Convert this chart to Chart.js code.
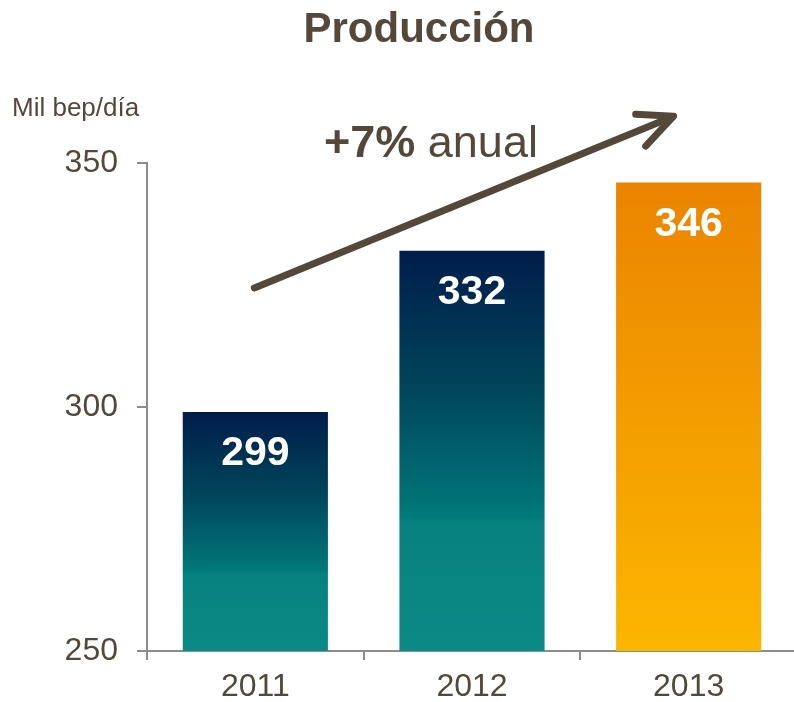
<!DOCTYPE html>
<html>
<head>
<meta charset="utf-8">
<script src="https://cdn.jsdelivr.net/npm/chart.js@4.4.1/dist/chart.umd.min.js"></script>
<style>
  html, body { margin: 0; padding: 0; background: #ffffff; overflow: hidden; }
  #wrap { width: 794px; height: 702px; position: relative; overflow: hidden; }
</style>
</head>
<body>
<div id="wrap"><canvas id="c" width="797" height="702"></canvas></div>
<script>
// ---- Data ----
const categories = ['2011', '2012', '2013'];
const production = [299, 332, 346];
const yTicks = [250, 300, 350];
const titleText = 'Producción';
const unitText = 'Mil bep/día';
const growthBold = '+7%';
const growthText = ' anual';

// ---- Style ----
const TEXT = '#54483a';
const AXIS = '#8c8c8c';
const FONT = '"Liberation Sans", Arial, Helvetica, sans-serif';

function barGradient(context) {
  const chart = context.chart;
  const yScale = chart.scales.y;
  if (!chart.chartArea || !yScale) return '#0c8784';
  const top = yScale.getPixelForValue(context.raw);
  const bottom = yScale.getPixelForValue(yScale.min);
  const g = chart.ctx.createLinearGradient(0, top, 0, bottom);
  if (context.dataIndex === categories.length - 1) {
    g.addColorStop(0, '#eb8400');
    g.addColorStop(1, '#fcb600');
  } else {
    g.addColorStop(0, '#001d4b');
    g.addColorStop(0.35, '#00465a');
    g.addColorStop(0.66, '#00787a');
    g.addColorStop(0.68, '#07817f');
    g.addColorStop(1, '#0c8a86');
  }
  return g;
}

const decorPlugin = {
  id: 'decor',
  afterDraw(chart) {
    const ctx = chart.ctx;
    const xs = chart.scales.x, ys = chart.scales.y;
    ctx.save();
    // title
    ctx.fillStyle = TEXT;
    ctx.font = 'bold 42px ' + FONT;
    ctx.textAlign = 'center';
    ctx.textBaseline = 'alphabetic';
    ctx.fillText(titleText, 419, 42);
    // unit label
    ctx.font = '26px ' + FONT;
    ctx.textAlign = 'left';
    ctx.fillText(unitText, 12, 116);
    // bar value labels
    const meta = chart.getDatasetMeta(0);
    ctx.fillStyle = '#ffffff';
    ctx.font = 'bold 41px ' + FONT;
    ctx.textAlign = 'center';
    meta.data.forEach((bar, i) => {
      ctx.fillText(String(production[i]), bar.x, bar.y + 53);
    });
    // arrow (anchored to scales)
    const x0 = xs.getPixelForValue(0) - 1, y0 = ys.getPixelForValue(324.4);
    const x1 = xs.getPixelForValue(2) - 15, y1 = ys.getPixelForValue(359.6);
    ctx.strokeStyle = TEXT;
    ctx.lineWidth = 7;
    ctx.lineCap = 'round';
    ctx.lineJoin = 'round';
    ctx.beginPath();
    ctx.moveTo(x0, y0);
    ctx.lineTo(x1 - 3, y1 + 1.3);
    ctx.stroke();
    ctx.beginPath();
    ctx.moveTo(x1 - 38, y1 - 2);
    ctx.lineTo(x1, y1);
    ctx.lineTo(x1 - 28, y1 + 30);
    ctx.stroke();
    // growth text
    ctx.fillStyle = TEXT;
    ctx.textAlign = 'left';
    ctx.font = 'bold 45px ' + FONT;
    const bw = ctx.measureText(growthBold).width;
    ctx.fillText(growthBold, 324, 157);
    ctx.font = '45px ' + FONT;
    ctx.fillText(growthText, 324 + bw, 157);
    ctx.restore();
  }
};

new Chart(document.getElementById('c'), {
  type: 'bar',
  data: {
    labels: categories,
    datasets: [{
      data: production,
      backgroundColor: barGradient,
      borderWidth: 0,
      barPercentage: 0.67,
      categoryPercentage: 1.0
    }]
  },
  options: {
    responsive: false,
    animation: false,
    devicePixelRatio: 1,
    layout: { padding: { top: 163, left: 0, right: 0, bottom: 0 } },
    plugins: { legend: { display: false }, title: { display: false }, tooltip: { enabled: false } },
    scales: {
      x: {
        grid: { display: true, drawOnChartArea: false, drawTicks: true, tickLength: 9, color: AXIS, lineWidth: 2, offset: true },
        border: { display: true, color: AXIS, width: 2 },
        ticks: { color: TEXT, font: { family: FONT, size: 32 }, padding: 8 },
        afterFit(scale) { scale.height = 51; }
      },
      y: {
        min: 250,
        max: 350,
        afterBuildTicks(scale) { scale.ticks = yTicks.map(v => ({ value: v })); },
        grid: { display: true, drawOnChartArea: false, drawTicks: true, tickLength: 10, color: AXIS, lineWidth: 2 },
        border: { display: true, color: AXIS, width: 2 },
        ticks: { color: TEXT, font: { family: FONT, size: 32 }, padding: 19 },
        afterFit(scale) { scale.width = 147; }
      }
    }
  },
  plugins: [decorPlugin]
});
</script>
</body>
</html>
